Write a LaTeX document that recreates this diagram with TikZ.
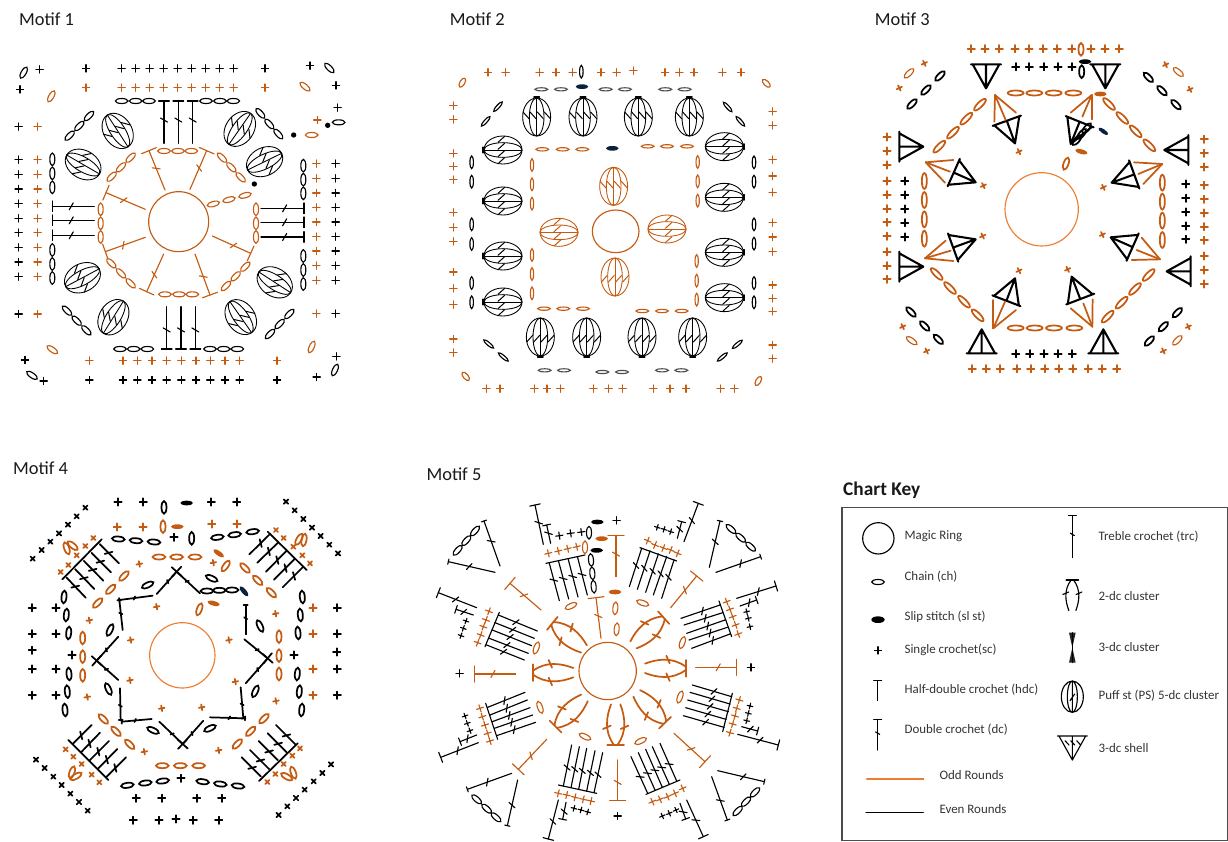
\documentclass[tikz,border=0pt]{standalone}
\usepackage{fontspec}
\setmainfont{Carlito}
\usetikzlibrary{calc}
\definecolor{oddCol}{HTML}{C55A11}
\definecolor{ringCol}{HTML}{ED7D31}
\definecolor{navyCol}{HTML}{0B1F3F}

\newcommand\slen{3}
\newcommand\putsc[3][0]{\foreach \x/\y in {#3}{\pic[rotate=#1,#2] at (\x,\y) {scst};}}
\newcommand\putch[2]{\foreach \x/\y/\a in {#2}{\pic[rotate=\a,#1] at (\x,\y) {chainst};}}
\newcommand\putsl[2]{\foreach \x/\y/\a in {#2}{\pic[rotate=\a,#1] at (\x,\y) {slipst};}}
\newcommand\putpf[2]{\foreach \x/\y/\a in {#2}{\pic[rotate=\a,#1] at (\x,\y) {puffst};}}
\newcommand\putln[2]{\foreach \ax/\ay/\bx/\by in {#2}{\draw[#1] (\ax,\ay) -- (\bx,\by);}}
\newcommand\dcline[4]{
    \draw[#1] (#3) -- (#4);
    \draw[#1] ($(#4)!#2pt!90:(#3)$) -- ($(#4)!#2pt!-90:(#3)$);
    \draw[#1] ($(#3)!.55!(#4)!\slen pt!60:(#4)$) -- ($(#3)!.55!(#4)!\slen pt!-120:(#4)$);
}
\newcommand\putdc[3]{\foreach \ax/\ay/\bx/\by in {#3}{\dcline{#1}{#2}{\ax,\ay}{\bx,\by}}}

\begin{document}
\begin{tikzpicture}[
    x=.25pt, y=-.25pt, line width=.85pt, line cap=round,
    oddst/.style={color=oddCol},
    evenst/.style={color=black},
    boldst/.style={line width=1.3pt},
    heavyst/.style={line width=1.55pt},
    slimst/.style={yscale=.62, color=black!70},
    longst/.style={xscale=1.25},
    smallst/.style={scale=.8},
    title/.style={anchor=west, inner sep=0pt, text=black!90, font=\fontsize{13.8}{15}\selectfont},
    keytext/.style={anchor=west, inner sep=0pt, text=black!80, font=\fontsize{9.7}{11}\selectfont},
    keybox/.style={draw=black!70, line width=.9pt},
    scst/.pic={\draw (-11,0) -- (11,0) (0,-11) -- (0,11);},
    chainst/.pic={\draw (0,0) ellipse (19 and 7.5);},
    slipst/.pic={\fill (0,0) ellipse (19 and 7);},
    puffst/.pic={
        \draw[line width=.65pt] (57,0) ellipse (57 and 42);
        \draw[line width=.65pt] (57,0) ellipse (57 and 22);
        \draw[line width=.65pt] (0,0) -- (114,0);
        \foreach \t in {-32,-11,11,32}{\draw[line width=.75pt] (62,\t-9) -- (42,\t+9);}
    },
    puffcap/.pic={\draw[line width=1.3pt] (0,-8) -- (0,8);},
    shellst/.pic={
        \draw (0,0) -- (72,-40) (0,0) -- (72,0) (0,0) -- (72,40) (72,-45) -- (72,45);
    },
    clusterst/.pic={
        \draw (0,-5) .. controls (40,-35) and (85,-28) .. (122,-14);
        \draw (0,5) .. controls (40,35) and (85,28) .. (122,14);
        \draw (0,-25) -- (0,25);
        \draw (48,-38) -- (58,-15) (48,15) -- (58,38);
    },
]
    \useasboundingbox (0,0) rectangle (3684,2526);

    %% motif one
    \node[title] (titleone) at (56,58) {Motif 1};
    \draw[oddst] (536,665) circle (90);
    \foreach \x in {365,407,449,491,533,575,617,659,701,258,795}{
        \pic[evenst] at (\x,205) {scst};
        \pic[oddst] at (\x,263) {scst};
    }
    \foreach \x in {369,412,456,500,544,588,631,675,719,268,831}{
        \pic[oddst] at (\x,1082) {scst};
        \pic[evenst] at (\x,1140) {scst};
    }
    \foreach \y in {380,479,523,567,611,655,698,742,786,830,942}{
        \pic[evenst] at (56,\y) {scst};
        \pic[oddst] at (113,\y) {scst};
    }
    \foreach \y in {491,535,579,622,666,710,753,797,841,941}{
        \pic[oddst] at (949,\y) {scst};
        \pic[evenst] at (1007,\y) {scst};
    }
    \putsc{}{119/208,60/268,930/197,1008/256,1013/323,75/1080,131/1143,1009/1069,950/1131}
    \putsc{oddst}{952/360}
    \putch{}{71/218/60,988/204/-45,1016/367/0,96/1126/-35,1005/1110/65}
    \putch{oddst}{154/289/60,915/260/-40,935/405/0,157/1049/-35,935/1041/65}
    \fill (983,376) circle (8) (881,405) circle (8) (763,552) circle (8);
    \putch{}{365/303/0,407/303/0,447/303/0,618/303/0,660/303/0,700/303/0,360/1047/0,401/1047/0,442/1047/0,630/1047/0,671/1047/0,712/1047/0}
    \putch{}{157/478/90,157/520/90,157/562/90,157/750/90,157/792/90,157/834/90,910/497/90,910/539/90,910/580/90,910/768/90,910/810/90,910/852/90}
    \putch{}{267/348/45,238/378/45,209/407/45,781/340/-48,808/372/-48,835/402/-48,201/932/-45,230/962/-45,259/991/-45,868/942/45,839/972/45,810/1002/45}
    \putdc{}{4}{492/430/492/303,535/430/535/303,578/430/578/303,500/920/500/1047,543/920/543/1047,586/920/586/1047}
    \putdc{}{4}{283/619/157/619,283/661/157/661,283/706/157/706,783/625/912/625,783/667/912/667,783/711/912/711}
    \putpf{}{322/345/-57,752/340/-125,845/460/206,200/465/-30,197/860/28,872/878/147,310/1000/58,755/998/125}
    \putch{oddst}{640/612/15,687/599/15,735/586/15,492/453/0,534/453/0,574/453/0,495/883/0,537/883/0,577/883/0}
    \putch{oddst}{335/530/45,363/502/45,392/473/45,666/473/-45,694/502/-45,722/532/-45,302/628/90,302/670/90,302/711/90,768/628/90,768/670/90,768/711/90,334/790/-45,363/820/-45,392/850/-45,678/858/45,707/829/45,736/800/45}
    \putdc{oddst}{6}{495/570/447/452,570/568/620/452,436/628/318/578,436/712/316/755,491/762/440/875,585/762/630/885,637/708/752/760}

    %% motif two
    \begin{scope}[shift={(1260,0)}]
        \node[title] (titletwo) at (88,58) {Motif 2};
        \draw[oddst] (587,694) ellipse (70 and 64);
        \putpf{oddst}{581/502/-90,360/697/0,798/687/180}
        \putpf{oddst,yscale=-1}{585/888/90}
        \putch{oddst,yscale=.65}{367/448/0,428/448/0,487/448/0,683/439/0,741/439/0,801/439/0,372/926/0,430/926/0,489/926/0,667/933/0,726/933/0,785/933/0}
        \putch{oddst,yscale=.65}{336/495/90,336/553/90,336/611/90,336/765/90,336/822/90,336/880/90,833/486/90,833/544/90,833/602/90,830/783/90,830/842/90,830/899/90}
        \putsl{color=navyCol}{577/445/0,486/260/0}
        \putpf{}{350/294/-90,489/294/-90,655/294/-90,808/294/-90}
        \putpf{yscale=-1}{361/1068/90,500/1068/90,666/1068/90,818/1068/90}
        \putpf{}{192/450/0,192/603/0,192/768/0,192/906/0,970/440/180,970/592/180,970/757/180,970/893/180}
        \foreach \x/\y/\a in {350/292/90,489/292/90,655/292/90,808/292/90,361/1070/90,500/1070/90,666/1070/90,818/1070/90,190/450/0,190/603/0,190/768/0,190/906/0,972/440/0,972/592/0,972/757/0,972/893/0}{
            \pic[rotate=\a] at (\x,\y) {puffcap};
        }
        \putch{slimst}{364/268/0,423/268/0,557/268/0,615/268/0,736/268/0,794/268/0,374/1111/0,432/1111/0,547/1116/0,606/1116/0,726/1111/0,784/1111/0}
        \putch{yscale=.7}{484/215/90,155/487/90,155/545/90,155/673/90,155/732/90,155/849/90,155/907/90,1002/487/90,1002/545/90,1002/673/90,1002/731/90,1002/849/90,1002/907/90}
        \putch{yscale=.62}{234/320/48,197/364/48,923/321/-48,961/364/-48,206/1032/-40,250/1071/-40,952/1033/40,907/1071/40}
        \putsc{oddst}{204/217,257/217,359/217,408/217,458/217,543/217,590/217,640/212,735/217,778/217,822/217,907/217,963/217}
        \putsc{oddst}{199/1166,240/1166,343/1166,381/1166,421/1166,520/1166,566/1166,608/1166,700/1166,750/1166,798/1166,902/1166,943/1166}
        \putsc{oddst}{100/317,100/358,100/460,100/499,100/539,100/637,100/682,100/724,100/816,100/865,100/914,100/1017,100/1058}
        \putsc{oddst}{1058/334,1058/376,1058/479,1058/528,1058/577,1058/668,1058/711,1058/755,1058/855,1058/895,1058/934,1058/1035,1058/1076}
        \putch{oddst,xscale=.8}{127/248/60,1039/250/-45,137/1129/-50,1015/1143/60}
    \end{scope}

    %% motif three
    \begin{scope}[shift={(2490,0)}]
        \node[title] (titlethree) at (133,58) {Motif 3};
        \draw[color=ringCol] (635,628) circle (110);
        \putch{oddst,boldst,longst}{557/279/0,613/279/0,671/279/0,730/279/0,557/984/0,614/984/0,672/984/0,733/984/0}
        \putch{oddst,boldst,longst}{283/543/90,283/600/90,283/658/90,283/716/90,997/548/90,997/605/90,997/662/90,997/720/90}
        \putch{oddst,boldst,longst}{328/440/45,369/398/45,409/356/45,450/314/45,837/312/-45,877/354/-45,917/394/-45,958/436/-45,320/822/-45,360/864/-45,402/905/-45,443/946/-45,833/950/45,875/908/45,915/867/45,956/825/45}
        \putch{oddst,boldst}{708/491/70}
        \putsl{oddst}{811/282/0,754/455/-15}
        \putsl{color=navyCol,scale=.9}{820/394/-35}
        \foreach \x/\y/\a in {468/265/90,826/265/90,280/440/180,280/800/180,1003/450/0,1010/814/0,455/988/-90,820/988/-90,555/430/110,722/432/68,437/547/156,437/718/200,845/548/20,842/712/-24,555/835/-111,725/830/-69}{
            \pic[evenst,heavyst,rotate=\a] at (\x,\y) {shellst};
        }
        \putln{oddst,boldst}{495/285/493/365,495/285/527/360,495/285/558/338,785/285/722/338,785/285/757/350,785/285/785/358,287/487/370/480,287/487/360/515,287/487/345/548,285/775/347/722,285/775/362/752,285/775/370/783,997/492/912/487,997/492/925/522,997/492/940/552,990/778/935/713,990/778/920/750,990/778/905/780,490/985/490/900,490/985/525/905,490/985/558/930,787/980/722/925,787/980/760/910,787/980/788/898}
        \putsc[25]{oddst,boldst,smallst}{567/455,460/557,820/562,458/708,817/704,567/812,713/808,283/190,208/264,1007/194,1080/268,218/980,290/1053,1075/980,1000/1053}
        \putsc{oddst,boldst}{424/146,465/146,508/146,555/146,597/146,640/146,682/146,725/146,783/146,825/146,868/146,427/1106,469/1106,511/1106,560/1106,602/1106,644/1106,686/1106,728/1106,775/1106,817/1106,860/1106}
        \putsc{oddst,boldst}{171/411,171/453,171/495,171/543,171/584,171/626,171/667,171/709,171/755,171/797,171/838,1123/418,1123/460,1123/501,1123/556,1123/598,1123/639,1123/680,1123/721,1123/768,1123/810,1123/852}
        \putsc{boldst}{557/200,598/200,641/200,684/200,726/200,557/1061,599/1061,642/1061,684/1061,727/1061,224/543,224/585,224/627,224/668,224/711,1067/552,1067/595,1067/636,1067/678,1067/718}
        \putch{oddst,boldst}{753/148/90}
        \putch{boldst}{755/215/90,741/420/50,755/402/50,770/385/50}
        \putsl{}{765/185/0}
        \putch{boldst}{246/312/45,288/270/45,330/228/45,955/232/-45,996/272/-45,1038/314/-45,243/936/-45,284/978/-45,325/1018/-45,958/1023/45,1000/980/45,1042/938/45}
        \putch{oddst}{237/220/45,1045/216/-40,245/1022/-35,1042/1021/45}
    \end{scope}

    %% motif four
    \begin{scope}[shift={(0,1350)}]
        \node[title] (titlefour) at (38,56) {Motif 4};
        \draw[color=ringCol] (547,616) circle (98);
        \renewcommand\slen{1.3}
        \putdc{boldst}{5}{470/432/530/365,600/430/530/365,355/560/290/632,355/690/290/632,733/568/803/625,737/700/803/625,478/815/548/882,610/812/548/882}
        \putdc{boldst}{1.5}{458/437/358/450,368/540/358/450,630/802/735/805,722/712/730/805,737/553/737/465,360/715/362/810,455/807/365/815}
        \renewcommand\slen{3}
        \putch{boldst}{443/405/25,635/385/-25,330/540/65,780/528/-65,325/717/-65,766/724/65,459/841/-25,630/835/25,621/423/0,658/421/0,696/420/0}
        \putsl{color=navyCol}{732/424/-50}
        \putch{oddst,boldst}{598/478/70,477/321/0,530/321/0,585/321/0,487/947/0,541/947/0,596/947/0,248/564/90,248/620/90,248/676/90,837/560/90,837/617/90,837/672/90}
        \putch{oddst,boldst}{293/459/45,332/418/45,372/378/45,677/348/55,735/354/-45,773/391/-45,814/428/-45,310/807/-45,348/844/-45,389/883/-45,712/882/45,752/844/45,792/806/45}
        \putsl{oddst}{641/460/-15,656/310/-35,532/230/0}
        \putsc[10]{oddst,boldst,smallst}{470/470,392/570,687/570,390/691,706/695,485/775,605/772,418/342,640/338,268/511,827/491,262/741,828/753,433/905,656/901}
        \putch{boldst}{355/267/-5,408/272/-5,462/276/-5,652/262/8,704/254/8,758/245/8,382/1006/8,436/999/8,488/993/8,608/995/-8,661/1002/-8,714/1008/-8,575/265/90,492/172/90}
        \putch{boldst}{192/441/85,199/495/85,206/549/85,207/672/95,202/725/95,195/780/95,907/441/95,901/495/95,894/549/95,892/672/85,898/725/85,905/780/85}
        \putsl{}{560/159/0}
        \putln{boldst}{187/388/305/268,803/245/920/360,893/880/777/993,205/870/325/990}
        \putdc{boldst}{0}{357/340/300/283,333/367/275/309,310/392/252/333,283/417/226/358,257/443/200/383}
        \putdc{boldst}{0}{748/313/810/252,772/338/835/277,798/365/860/302,822/389/885/326,848/412/910/350}
        \putdc{boldst}{0}{828/825/885/882,803/850/860/907,776/873/833/930,750/900/807/957,725/922/782/979}
        \putdc{boldst}{0}{275/825/218/882,300/848/243/907,327/873/269/931,352/897/295/955,378/922/320/980}
        \putsc[45]{oddst,boldst,smallst}{182/366,205/345,230/316,256/288,280/264,828/240,851/264,880/290,907/316,930/340,900/895,877/917,851/942,826/972,802/996,197/898,220/920,245/942,275/974,298/997}
        \putch{oddst,boldst}{200/295/-70,218/287/-40,897/268/60,912/270/80,216/967/70,228/979/30,860/980/-30,880/968/-70}
        \putsc[45]{boldst,scale=.85}{98/326,125/300,151/275,177/250,204/224,230/199,256/173,858/155,884/181,910/207,936/233,962/258,988/284,1014/310,108/929,134/954,160/980,185/1005,211/1031,237/1056,263/1082,836/1095,862/1069,888/1044,914/1019,941/994,967/969,993/943}
        \putsc{boldst}{354/156,430/156,634/156,710/156,522/262,543/985,409/1045,485/1045,590/1045,665/1045,400/1111,477/1111,528/1107,580/1111,656/1111}
        \putsc{oddst,boldst}{352/231,429/231,635/222,711/222,939/473,939/551,939/657,939/736}
        \putch{oddst,boldst}{489/230/90}
        \putsc{boldst}{97/473,168/473,97/551,168/551,97/601,216/615,97/657,168/657,97/736,168/736,1012/473,1012/551,882/615,1010/606,1012/657,1012/736}
    \end{scope}

    %% motif five
    \begin{scope}[shift={(1260,1350)}]
        \node[title] (titlefive) at (18,73) {Motif 5};
        \draw[oddst] (563,663) circle (86);
        \foreach \x/\y/\a in {797/655/180,338/668/0,731/503/222,397/520/-39,407/830/45,587/885/90,735/818/134}{
            \pic[oddst,boldst,rotate=\a] at (\x,\y) {clusterst};
        }
        \putdc{oddst}{6}{543/565/528/443,752/473/830/378,363/480/270/400,827/652/950/652,287/672/163/672,380/868/295/958,762/850/855/935,593/930/593/1052,588/380/588/257}
        \putch{oddst}{453/468/25,668/459/-20,586/475/85,590/538/85,787/578/70,349/594/70,360/772/-70,780/741/70,495/860/-25,662/873/25,495/292/90}
        \putch{}{507/248/90,513/330/-85,517/370/-85,521/410/-85}
        \putsl{oddst}{585/426/0,545/266/0}
        \putsl{}{532/216/0,530/301/0}
        % five stem fans
        \putln{}{378/340/495/315,660/293/770/333,897/453/935/560,937/730/908/845,780/990/678/1033,415/1005/530/1030,197/760/233/868,238/487/195/590}
        \putdc{}{0}{418/452/388/340,446/447/416/335,474/441/445/329,502/435/473/323}
        \putdc{}{0}{628/410/665/295,652/418/690/303,677/427/715/312,700/435/740/320,725/445/762/330}
        \putdc{}{0}{783/505/900/465,792/525/908/488,800/550/915/510,807/570/922/532,815/595/930/552}
        \putdc{}{0}{817/705/935/740,810/727/930/762,803/750/925/785,797/773/918/808,790/797/912/832}
        \putdc{}{0}{720/880/770/993,697/890/748/1003,677/898/727/1012,655/908/705/1020,633/920/683/1030}
        \putdc{}{0}{455/885/430/1008,478/890/453/1013,500/895/476/1018,525/902/500/1023,548/908/522/1028}
        \putdc{}{0}{315/727/203/772,322/750/210/795,330/773/217/815,338/795/223/835,347/817/230/857}
        \putdc{}{0}{352/543/235/495,343/565/225/518,335/587/217/540,325/610/208/565,313/630/200/585}
        \putsc[13]{oddst}{385/310,415/303,443/296,470/290}
        \putsc[-22]{oddst}{683/272,705/285,730/294,752/300,773/310}
        \putsc[20]{oddst}{920/455,930/478,938/500,947/525,955/552}
        \putsc[-16]{oddst}{958/750,950/775,945/798,938/822,930/848}
        \putsc[23]{oddst}{697/1055,720/1048,743/1040,765/1030,788/1015}
        \putsc[-13]{oddst}{415/1030,440/1035,465/1042,490/1048,513/1053}
        \putsc[17]{oddst}{180/775,187/800,195/825,203/850,210/873}
        \putsc[-20]{oddst}{207/484,198/510,190/530,182/555,173/578}
        \putsc[8]{}{418/257,452/250,484/246}
        \putsc[-17]{smallst}{712/232,732/238,752/245}
        \putsc[12]{smallst}{980/485,985/505,990/530}
        \putsc[-13]{smallst}{990/768,985/790,980/812}
        \putsc[23]{smallst}{727/1098,748/1090,768/1080}
        \putsc[-15]{smallst}{462/1075,483/1080,503/1086}
        \putsc[19]{smallst}{135/798,142/820,150/842}
        \putsc[-19]{smallst}{138/513,130/535,123/557}
        % hook pairs beside the fans
        \putdc{}{4}{370/283/345/165,792/275/835/160,950/445/1068/408,953/853/1075/885,800/1050/850/1160,415/1050/385/1167,175/878/62/922,170/473/55/428}
        \putdc{}{3}{392/280/380/225,772/265/785/215,960/468/1010/450,965/830/1013/843,780/1060/797/1107,438/1057/428/1108,170/855/120/875,160/495/108/478}
        % corner triangles
        \putdc{}{2}{225/367/85/335,240/348/192/213,888/367/1022/320,868/352/900/213,275/970/142/1018,293/990/262/1127,893/962/1033/995,875/980/922/1110}
        \putch{}{113/301/48,139/272/48,165/243/48,933/237/-42,962/263/-42,992/290/-42,170/1048/-42,200/1076/-42,228/1102/-42,953/1083/45,978/1055/45,1005/1027/45}
        \putsc{}{119/670,993/652,590/211,593/1098}
    \end{scope}

    %% chart key
    \begin{scope}[shift={(2490,1410)}]
        \node[title, font=\fontsize{14.5}{16}\selectfont\bfseries] (keytitle) at (38,60) {Chart Key};
        \draw[keybox] (36,112) rectangle (1193,1112);
        \draw (145,205) circle (47);
        \pic at (144,336) {chainst};
        \fill (144,449) ellipse (20 and 10);
        \pic at (144,541) {scst};
        \draw (143,692) -- (143,632) (131,632) -- (155,632);
        \renewcommand\slen{1.8}
        \dcline{}{3}{143,840}{143,748}
        \draw[ringCol, line width=1pt] (110,927) -- (281,927);
        \draw (108,1028) -- (280,1028);
        \dcline{}{3}{727,263}{727,136}
        \pic[rotate=-90, scale=.75] at (727,330) {clusterst};
        \fill[black!85] (717,488) -- (737,488) -- (727,533) -- (737,578) -- (717,578) -- (727,533) -- cycle;
        \draw (727,488) -- (727,578);
        \draw (727,680) ellipse (33 and 47) ellipse (15 and 47);
        \draw (727,633) -- (727,727) (719,635) -- (735,635) (720,692) -- (734,672);
        \pic[rotate=90] at (727,870) {shellst};
        \draw (705,812) -- (717,825) (722,812) -- (734,825) (740,812) -- (752,825);
        \node[keytext] (keyring) at (222,198) {Magic Ring};
        \node[keytext] (keychain) at (222,321) {Chain (ch)};
        \node[keytext] (keyslip) at (222,439) {Slip stitch (sl st)};
        \node[keytext] (keysc) at (222,541) {Single crochet(sc)};
        \node[keytext] (keyhdc) at (222,659) {Half-double crochet (hdc)};
        \node[keytext] (keydc) at (222,778) {Double crochet (dc)};
        \node[keytext] (keyodd) at (327,915) {Odd Rounds};
        \node[keytext] (keyeven) at (327,1016) {Even Rounds};
        \node[keytext] (keytrc) at (804,201) {Treble crochet (trc)};
        \node[keytext] (keytwo) at (804,377) {2-dc cluster};
        \node[keytext] (keythree) at (804,530) {3-dc cluster};
        \node[keytext] (keypuff) at (804,678) {Puff st (PS) 5-dc cluster};
        \node[keytext] (keyshell) at (804,835) {3-dc shell};
    \end{scope}
\end{tikzpicture}
\end{document}
